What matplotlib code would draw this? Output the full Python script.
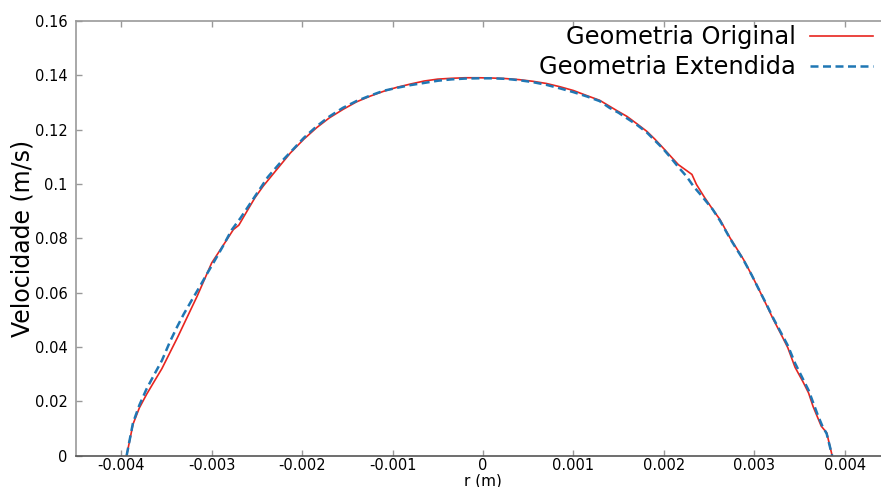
import matplotlib
matplotlib.use("Agg")
import matplotlib.pyplot as plt
import numpy as np

plt.rcParams['font.family'] = ['DejaVu Sans']
plt.rcParams['axes.unicode_minus'] = False

# Radial position (mm) and velocity (m/s) -- Geometria Original
r_orig_mm = [-3.94, -3.87, -3.80, -3.72, -3.64, -3.55, -3.46, -3.38, -3.27, -3.16,
             -3.08, -3.00, -2.88, -2.76, -2.70, -2.60, -2.52, -2.43, -2.30, -2.13,
             -1.98, -1.84, -1.70, -1.55, -1.40, -1.25, -1.10, -0.95, -0.80, -0.65,
             -0.50, -0.35, -0.20, -0.05, 0.10, 0.25, 0.40, 0.55, 0.70, 0.85,
             1.00, 1.15, 1.29, 1.37, 1.48, 1.59, 1.70, 1.81, 1.90, 1.99,
             2.08, 2.16, 2.31, 2.36, 2.45, 2.54, 2.62, 2.73, 2.80, 2.88,
             2.97, 3.06, 3.14, 3.21, 3.29, 3.37, 3.45, 3.54, 3.60, 3.65,
             3.70, 3.74, 3.80, 3.86]
v_orig = [0.0, 0.0115, 0.0175, 0.0225, 0.0270, 0.0320, 0.0380, 0.0433, 0.0510, 0.0587,
          0.0648, 0.0709, 0.0770, 0.0832, 0.0848, 0.0905, 0.0950, 0.0992, 0.1045, 0.1114,
          0.1165, 0.1207, 0.1243, 0.1274, 0.1302, 0.1323, 0.1341, 0.1356, 0.1368, 0.1379,
          0.1386, 0.1389, 0.1391, 0.1391, 0.1390, 0.1388, 0.1384, 0.1378, 0.1370, 0.1358,
          0.1344, 0.1325, 0.1308, 0.1292, 0.1270, 0.1249, 0.1222, 0.1194, 0.1165, 0.1133,
          0.1100, 0.1071, 0.1035, 0.0998, 0.0950, 0.0906, 0.0869, 0.0802, 0.0765, 0.0722,
          0.0665, 0.0605, 0.0550, 0.0501, 0.0450, 0.0397, 0.0325, 0.0270, 0.0230, 0.0180,
          0.0140, 0.0108, 0.0084, 0.0]

# Geometria Extendida
r_ext_mm = [-3.94, -3.87, -3.80, -3.72, -3.64, -3.55, -3.46, -3.38, -3.31, -3.22,
            -3.13, -3.05, -2.98, -2.88, -2.78, -2.68, -2.58, -2.48, -2.38, -2.25,
            -2.12, -1.98, -1.84, -1.70, -1.55, -1.40, -1.25, -1.10, -0.95, -0.80,
            -0.65, -0.50, -0.35, -0.20, -0.05, 0.10, 0.25, 0.40, 0.55, 0.70,
            0.85, 1.00, 1.15, 1.29, 1.40, 1.50, 1.59, 1.70, 1.81, 1.90,
            1.99, 2.08, 2.16, 2.25, 2.33, 2.42, 2.54, 2.62, 2.73, 2.80,
            2.88, 2.97, 3.06, 3.14, 3.21, 3.29, 3.37, 3.45, 3.54, 3.60,
            3.65, 3.70, 3.75, 3.80, 3.86]
v_ext = [0.0, 0.0120, 0.0185, 0.0245, 0.0295, 0.0350, 0.0420, 0.0475, 0.0520, 0.0572,
         0.0623, 0.0670, 0.0710, 0.0768, 0.0830, 0.0875, 0.0925, 0.0975, 0.1025, 0.1075,
         0.1120, 0.1170, 0.1212, 0.1248, 0.1280, 0.1305, 0.1325, 0.1343, 0.1354, 0.1364,
         0.1372, 0.1380, 0.1385, 0.1388, 0.1389, 0.1389, 0.1387, 0.1382, 0.1375, 0.1365,
         0.1352, 0.1338, 0.1322, 0.1305, 0.1280, 0.1262, 0.1242, 0.1218, 0.1190, 0.1160,
         0.1130, 0.1095, 0.1062, 0.1028, 0.0990, 0.0955, 0.0906, 0.0865, 0.0800, 0.0762,
         0.0720, 0.0665, 0.0605, 0.0553, 0.0505, 0.0455, 0.0405, 0.0340, 0.0280, 0.0240,
         0.0195, 0.0150, 0.0110, 0.0080, 0.0]

labels = ["Geometria Original", "Geometria Extendida"]
xticks = [-0.004, -0.003, -0.002, -0.001, 0, 0.001, 0.002, 0.003, 0.004]
xticklabels = ["-0.004", "-0.003", "-0.002", "-0.001", "0", "0.001", "0.002", "0.003", "0.004"]
yticks = [0, 0.02, 0.04, 0.06, 0.08, 0.1, 0.12, 0.14, 0.16]
yticklabels = ["0", "0.02", "0.04", "0.06", "0.08", "0.1", "0.12", "0.14", "0.16"]

W, H = 881, 487
fig = plt.figure(figsize=(W / 100, H / 100), dpi=100)
left, right, bottom, top = 76, 890, 455.5, 21
ax = fig.add_axes([left / W, 1 - bottom / H, (right - left) / W, (bottom - top) / H])

r_orig = np.array(r_orig_mm) * 1e-3
r_ext = np.array(r_ext_mm) * 1e-3
ax.plot(r_orig, v_orig, color='#e8251f', lw=1.2, label=labels[0])
ax.plot(r_ext, v_ext, color='#1f77b4', lw=1.8, ls=(0, (3.2, 1.8)), label=labels[1])

ax.set_xlim(-0.0045, 0.0045)
ax.set_ylim(0, 0.16)
ax.set_xticks(xticks)
ax.set_xticklabels(xticklabels)
ax.set_yticks(yticks)
ax.set_yticklabels(yticklabels)
ax.tick_params(direction='in', length=4, width=1, color='#999999', labelsize=10.5,
               top=True, right=True)
ax.tick_params(axis='x', pad=2)
ax.tick_params(axis='y', pad=6)
for s in ['left', 'top', 'right']:
    ax.spines[s].set_color('#999999')
    ax.spines[s].set_linewidth(1.2)
ax.spines['bottom'].set_color('#555555')
ax.spines['bottom'].set_linewidth(1.2)

ax.set_xlabel("r (m)", fontsize=11, labelpad=0)
ax.set_ylabel("Velocidade (m/s)", fontsize=17, labelpad=0)

leg = ax.legend(loc='upper right', bbox_to_anchor=(873 / W, 1 - 25 / H),
                bbox_transform=fig.transFigure, frameon=False, fontsize=17.4,
                markerfirst=False, handlelength=2.6, borderpad=0, borderaxespad=0,
                labelspacing=0.25, handletextpad=0.6)

fig.savefig("out.png", dpi=100)
